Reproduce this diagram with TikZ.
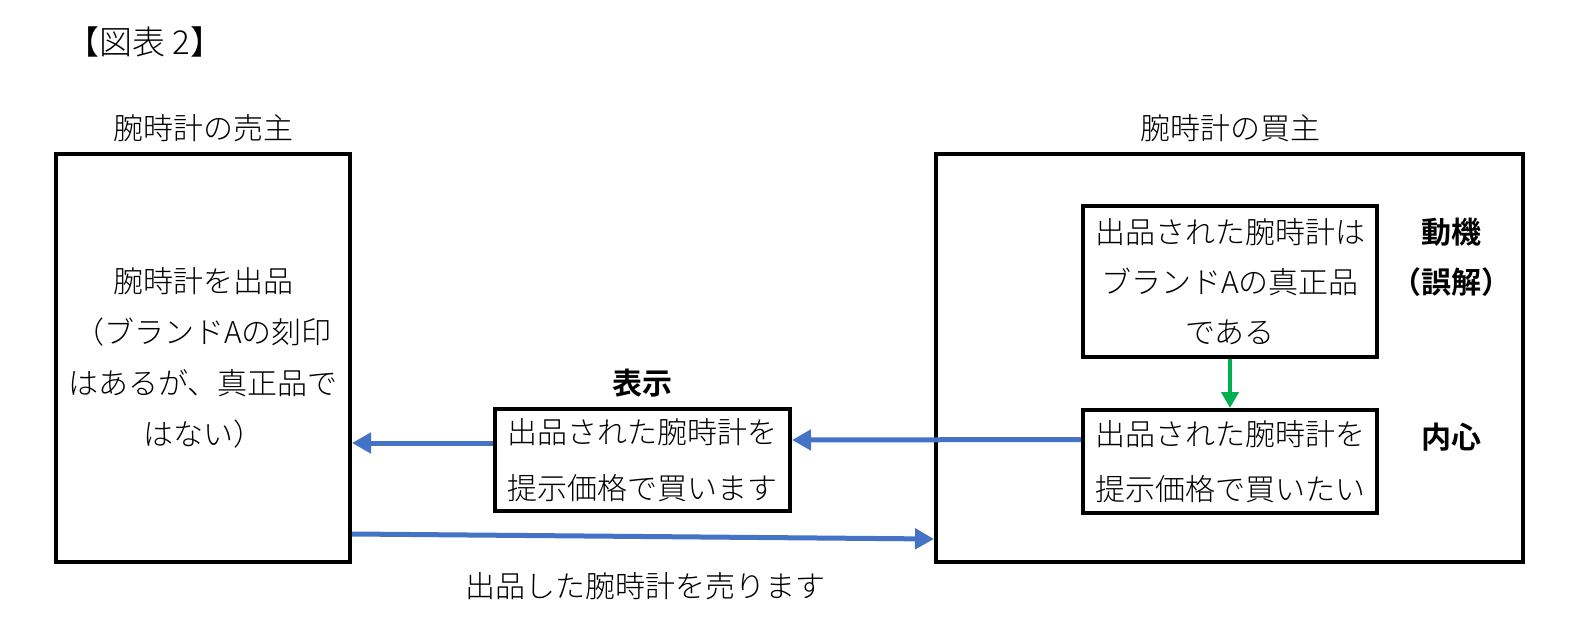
\documentclass[tikz,border=0pt]{standalone}
\usepackage{fontspec}
\IfFontExistsTF{Noto Sans CJK JP Light}
  {\setmainfont{Noto Sans CJK JP Light}[BoldFont={Noto Sans CJK JP Bold}]}
  {\setmainfont{Noto Sans CJK JP}}
\usetikzlibrary{arrows.meta}
\definecolor{arrblue}{HTML}{4472C4}
\definecolor{arrgreen}{HTML}{00B050}
\begin{document}
\begin{tikzpicture}[x=1pt,y=-1pt,
  frame/.style={draw=black, line width=4pt, inner sep=0pt, align=center},
  txt/.style={font=\fontsize{30}{52}\selectfont, align=center, inner sep=0pt},
  boldtxt/.style={font=\fontsize{30}{52}\selectfont\bfseries, inner sep=0pt},
  bluearr/.style={draw=arrblue, line width=5pt, -{Triangle[length=19pt,width=20pt]}},
  greenarr/.style={draw=arrgreen, line width=4pt, -{Triangle[length=16pt,width=17pt]}}]
\useasboundingbox (0,0) rectangle (1591,624);
\fill[white] (0,0) rectangle (1591,624);

\node[font=\fontsize{33}{40}\selectfont, anchor=west, inner sep=0pt] (title) at (66,42) {【図表 2】};

\node[txt] (sellerlbl) at (203,128) {腕時計の売主};
\node[txt] (buyerlbl) at (1230,128) {腕時計の買主};

\node[frame, minimum width=294pt, minimum height=408pt, font=\fontsize{30}{51}\selectfont] (seller) at (203,358)
  {腕時計を出品\\（ブランドAの刻印\\はあるが、真正品で\\はない）};
\node[frame, minimum width=587pt, minimum height=408pt] (buyer) at (1229.5,358) {};
\node[frame, minimum width=294pt, minimum height=151pt, font=\fontsize{30}{50}\selectfont] (motive) at (1230,281.5)
  {出品された腕時計は\\ブランドAの真正品\\である};
\node[frame, minimum width=294pt, minimum height=103pt, font=\fontsize{30}{55}\selectfont] (intent) at (1230,461.5)
  {出品された腕時計を\\提示価格で買いたい};
\node[frame, minimum width=295pt, minimum height=102pt, font=\fontsize{30}{56}\selectfont] (disp) at (642.5,460)
  {出品された腕時計を\\提示価格で買います};

\node[boldtxt] (hyoji) at (642,383) {表示};
\node[boldtxt] (doki) at (1451,232) {動機};
\node[boldtxt] (gokai) at (1451,282) {（誤解）};
\node[boldtxt] (naishin) at (1451,437) {内心};
\node[txt] (sell) at (645,586) {出品した腕時計を売ります};

\draw[bluearr] ([yshift=17pt]disp.west) -- ([yshift=-85pt]seller.east);
\draw[bluearr] ([yshift=22pt]intent.west) -- ([yshift=20pt]disp.east);
\draw[bluearr] ([yshift=-176pt]seller.east) -- ([yshift=-181pt]buyer.west);
\draw[greenarr] (motive.south) -- (intent.north);
\end{tikzpicture}
\end{document}
